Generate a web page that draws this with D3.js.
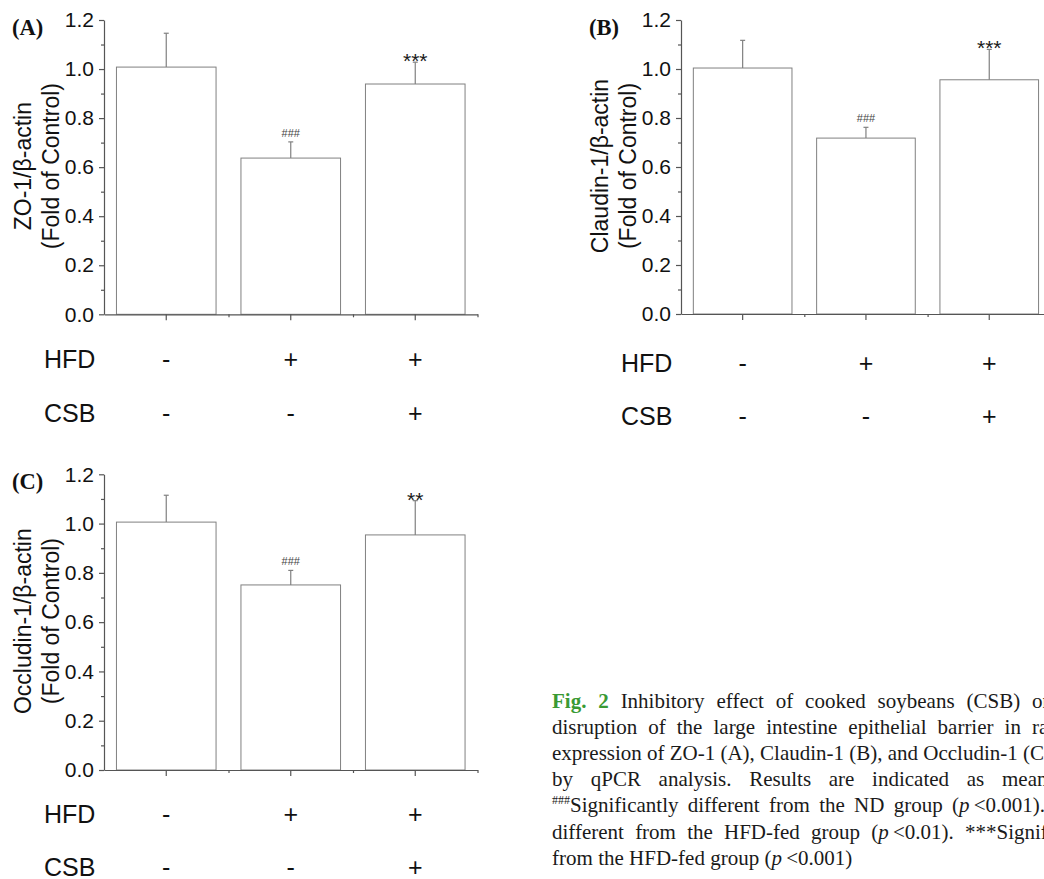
<!DOCTYPE html>
<html lang="en">
<head>
  <meta charset="UTF-8">
  <script src="https://d3js.org/d3.v7.min.js"></script>
  <title>Tight junction expression</title>
  <style>
    body { margin: 0; background: #fff; }
    svg { display: block; }
    .sans { font-family: 'Liberation Sans', Arial, sans-serif; }
    .serif { font-family: 'Liberation Serif', 'Times New Roman', serif; }
    .fig { fill: #3a9a34; font-weight: bold; }
  </style>
</head>
<body>
  <div id="chart"></div>
  <script>
    // groups and treatment rows
    const groups = ["ND", "HFD", "HFD+CSB"];
    const hfdSigns = ["-", "+", "+"];
    const csbSigns = ["-", "-", "+"];

    // values (mean, error)
    const zo1Mean = [1.008, 0.637, 0.939];
    const zo1Err = [0.138, 0.066, 0.089];
    const zo1Marks = ["", "###", "***"];

    const claudinMean = [1.004, 0.718, 0.956];
    const claudinErr = [0.113, 0.044, 0.124];
    const claudinMarks = ["", "###", "***"];

    const occludinMean = [1.006, 0.751, 0.954];
    const occludinErr = [0.109, 0.059, 0.139];
    const occludinMarks = ["", "###", "**"];

    const yTicks = [0, 0.2, 0.4, 0.6, 0.8, 1.0, 1.2];
    const yMinor = [0.1, 0.3, 0.5, 0.7, 0.9, 1.1];

    const captionLines = [
      ['<tspan class="fig">Fig.</tspan>', '<tspan class="fig">2</tspan>', 'Inhibitory', 'effect', 'of', 'cooked', 'soybeans', '(CSB)', 'on'],
      ['disruption', 'of', 'the', 'large', 'intestine', 'epithelial', 'barrier', 'in', 'rats.'],
      ['expression', 'of', 'ZO-1', '(A),', 'Claudin-1', '(B),', 'and', 'Occludin-1', '(C)'],
      ['by', 'qPCR', 'analysis.', 'Results', 'are', 'indicated', 'as', 'mean'],
      ['<tspan font-size="12" dy="-8">###</tspan><tspan dy="8">Significantly</tspan>', 'different', 'from', 'the', 'ND', 'group', '(<tspan font-style="italic">p</tspan>\u2009&lt;0.001).'],
      ['different', 'from', 'the', 'HFD-fed', 'group', '(<tspan font-style="italic">p</tspan>\u2009&lt;0.01).', '***Significantly'],
      ['from', 'the', 'HFD-fed', 'group', '(<tspan font-style="italic">p</tspan>\u2009&lt;0.001)']
    ];
    const captionLastX = [1032, 1032, 1023, 1002, 952, 965, null];

    const svg = d3.select("#chart").append("svg")
      .attr("width", 1044)
      .attr("height", 879);

    const panels = [
      { label: "(A)", title: "ZO-1/\u03b2-actin", mean: zo1Mean, err: zo1Err, marks: zo1Marks,
        x0: 104, top: 20, bottom: 314.3, step: 124.5, rowY: [368, 421.7] },
      { label: "(B)", title: "Claudin-1/\u03b2-actin", mean: claudinMean, err: claudinErr, marks: claudinMarks,
        x0: 681, top: 20, bottom: 314, step: 123.3, rowY: [371.7, 425] },
      { label: "(C)", title: "Occludin-1/\u03b2-actin", mean: occludinMean, err: occludinErr, marks: occludinMarks,
        x0: 104, top: 474.3, bottom: 770, step: 124.5, rowY: [823.3, 875.5] }
    ];

    const axisColor = "#555";
    const barColor = "#808080";

    panels.forEach(p => {
      const g = svg.append("g");
      const x = d3.scaleBand()
        .domain(groups)
        .range([p.x0, p.x0 + 3 * p.step])
        .paddingInner(0.2)
        .paddingOuter(0.1);
      const xs = d3.scaleLinear().domain([0.5, 3.5]).range(x.range());
      const y = d3.scaleLinear().domain([0, 1.2]).range([p.bottom, p.top]);

      const rows = groups.map((k, i) => ({ k, m: p.mean[i], e: p.err[i], mark: p.marks[i] }));

      // bars
      g.selectAll("rect.bar").data(rows).enter().append("rect")
        .attr("class", "bar")
        .attr("x", d => x(d.k))
        .attr("y", d => y(d.m))
        .attr("width", x.bandwidth())
        .attr("height", d => y(0) - y(d.m))
        .attr("fill", "#fff")
        .attr("stroke", barColor)
        .attr("stroke-width", 1);

      // error bars (upper only)
      const cx = d => x(d.k) + x.bandwidth() / 2;
      g.selectAll("line.err").data(rows).enter().append("line")
        .attr("x1", cx).attr("x2", cx)
        .attr("y1", d => y(d.m)).attr("y2", d => y(d.m + d.e))
        .attr("stroke", barColor).attr("stroke-width", 1.2);
      g.selectAll("line.cap").data(rows).enter().append("line")
        .attr("x1", d => cx(d) - 2.5).attr("x2", d => cx(d) + 2.5)
        .attr("y1", d => y(d.m + d.e)).attr("y2", d => y(d.m + d.e))
        .attr("stroke", barColor).attr("stroke-width", 1.2);

      // significance marks
      g.selectAll("text.mark").data(rows.filter(d => d.mark)).enter().append("text")
        .attr("class", "sans")
        .attr("x", cx)
        .attr("y", d => d.mark.startsWith("#") ? y(d.m + d.e) - 5 : y(d.m + d.e) + 6)
        .attr("text-anchor", "middle")
        .attr("font-size", d => d.mark.startsWith("#") ? 11 : 21)
        .attr("fill", d => d.mark.startsWith("#") ? "#444" : "#1a1a1a")
        .text(d => d.mark);

      // y axis
      const yAxis = g.append("g")
        .attr("transform", `translate(${p.x0},0)`)
        .call(d3.axisLeft(y).tickValues(yTicks).tickFormat(d3.format(".1f")).tickSize(5).tickPadding(5).tickSizeOuter(0));
      g.append("g")
        .attr("transform", `translate(${p.x0},0)`)
        .call(d3.axisLeft(y).tickValues(yMinor).tickFormat("").tickSize(3).tickSizeOuter(0))
        .select(".domain").remove();

      // x axis
      g.append("g")
        .attr("transform", `translate(0,${p.bottom})`)
        .call(d3.axisBottom(x).tickFormat("").tickSize(6).tickSizeOuter(0));
      g.append("g")
        .attr("transform", `translate(0,${p.bottom})`)
        .call(d3.axisBottom(xs).tickValues([1.5, 2.5, 3.5]).tickFormat("").tickSize(3).tickSizeOuter(0))
        .select(".domain").remove();

      g.selectAll(".domain, .tick line").attr("stroke", axisColor).attr("stroke-width", 1.2);
      yAxis.selectAll(".tick text")
        .attr("class", "sans")
        .attr("font-size", 21)
        .attr("fill", "#111");

      // y title
      const midY = (p.top + p.bottom) / 2 - 1;
      [[p.title, p.x0 - 73], ["(Fold of Control)", p.x0 - 45]].forEach(([t, tx]) => {
        g.append("text")
          .attr("class", "sans")
          .attr("transform", `translate(${tx},${midY}) rotate(-90)`)
          .attr("text-anchor", "middle")
          .attr("font-size", 23)
          .attr("fill", "#111")
          .text(t);
      });

      // panel label
      g.append("text")
        .attr("class", "serif")
        .attr("x", p.x0 - 92)
        .attr("y", p.top + 15)
        .attr("font-size", 22.5)
        .attr("font-weight", "bold")
        .attr("fill", "#111")
        .text(p.label);

      // treatment rows
      [["HFD", hfdSigns, p.rowY[0]], ["CSB", csbSigns, p.rowY[1]]].forEach(([name, signs, ry]) => {
        g.append("text")
          .attr("class", "sans")
          .attr("x", p.x0 - 60)
          .attr("y", ry)
          .attr("font-size", 25)
          .attr("fill", "#111")
          .text(name);
        g.selectAll(null).data(groups).enter().append("text")
          .attr("class", "sans")
          .attr("x", k => x(k) + x.bandwidth() / 2)
          .attr("y", ry)
          .attr("text-anchor", "middle")
          .attr("font-size", 25)
          .attr("fill", "#111")
          .text((k, i) => signs[i]);
      });
    });

    // caption, justified word by word
    const capX = 552, capY = 707.5, capLead = 26.2;
    const cap = svg.append("g")
      .attr("class", "serif")
      .attr("font-size", 21)
      .attr("fill", "#1a1a1a");

    captionLines.forEach((words, li) => {
      const yy = capY + li * capLead;
      const nodes = words.map(w => cap.append("text").attr("y", yy).html(w));
      const widths = nodes.map(n => n.node().getComputedTextLength());
      const lastX = captionLastX[li];
      let gap = 5.3;
      if (lastX) {
        const used = d3.sum(widths.slice(0, -1));
        gap = (lastX - capX - used) / (words.length - 1);
      }
      let cur = capX;
      nodes.forEach((n, i) => {
        n.attr("x", cur);
        cur += widths[i] + gap;
      });
    });
  </script>
</body>
</html>
